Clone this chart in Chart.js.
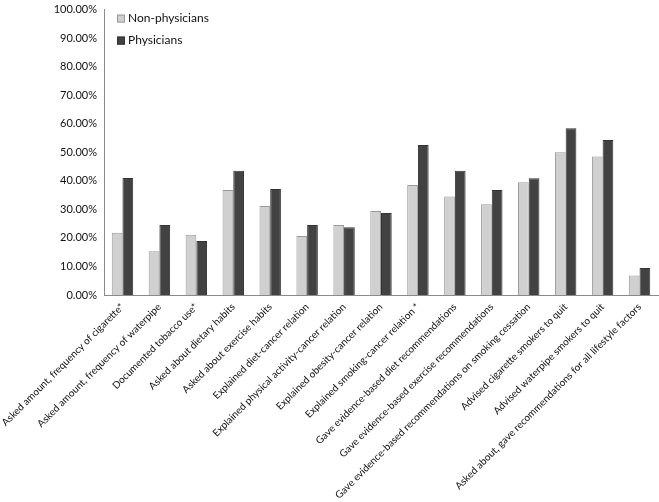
<!DOCTYPE html>
<html>
<head>
<meta charset="utf-8">
<script src="https://cdn.jsdelivr.net/npm/chart.js@4.4.1/dist/chart.umd.min.js"></script>
<style>
  html, body { margin: 0; padding: 0; background: #fff; }
  #wrap { width: 659px; height: 502px; }
</style>
</head>
<body>
<div id="wrap"><canvas id="chart"></canvas></div>
<script>
// categories and values (percent)
const categories = [
  'Asked amount, frequency of cigarette*',
  'Asked amount, frequency of waterpipe',
  'Documented tobacco use*',
  'Asked about dietary habits',
  'Asked about exercise habits',
  'Explained diet-cancer relation',
  'Explained physical activity-cancer relation',
  'Explained obesity-cancer relation',
  'Explained smoking-cancer relation *',
  'Gave evidence-based diet recommendations',
  'Gave evidence-based exercise recommendations',
  'Gave evidence-based recommendations on smoking cessation',
  'Advised cigarette smokers to quit',
  'Advised waterpipe smokers to quit',
  'Asked about, gave recommendations for all lifestyle factors'
];
const nonPhysicians = [21.8, 15.3, 21.1, 36.8, 31.2, 20.7, 24.5, 29.4, 38.5, 34.5, 31.8, 39.5, 50.0, 48.5, 6.8];
const physicians    = [41.0, 24.5, 18.9, 43.5, 37.1, 24.5, 23.7, 28.7, 52.6, 43.5, 36.8, 40.9, 58.4, 54.3, 9.5];
const yTicks = [0, 10, 20, 30, 40, 50, 60, 70, 80, 90, 100];

const FONT = 'Lato';
const TEXT = '#111';

// legend drawn inside the plot area, top left
const innerLegend = {
  id: 'innerLegend',
  afterDraw(chart) {
    const { ctx, chartArea } = chart;
    ctx.save();
    ctx.font = '12px "' + FONT + '"';
    ctx.textBaseline = 'middle';
    chart.data.datasets.forEach((ds, i) => {
      const x = chartArea.left + 13;
      const y = chartArea.top + 9 + i * 22;
      ctx.fillStyle = ds.backgroundColor;
      ctx.strokeStyle = ds.borderColor;
      ctx.lineWidth = 1;
      ctx.fillRect(x, y - 4, 8, 8);
      ctx.strokeRect(x + 0.5, y - 3.5, 7, 7);
      ctx.fillStyle = TEXT;
      ctx.fillText(ds.label, x + 11, y);
    });
    ctx.restore();
  }
};

new Chart(document.getElementById('chart'), {
  type: 'bar',
  data: {
    labels: categories,
    datasets: [
      {
        label: 'Non-physicians',
        data: nonPhysicians,
        backgroundColor: '#d0d0d0',
        borderColor: '#999999',
        borderWidth: 1,
        categoryPercentage: 0.58,
        barPercentage: 1
      },
      {
        label: 'Physicians',
        data: physicians,
        backgroundColor: '#424242',
        borderColor: '#333333',
        borderWidth: 1,
        categoryPercentage: 0.58,
        barPercentage: 1
      }
    ]
  },
  options: {
    responsive: true,
    maintainAspectRatio: false,
    animation: false,
    layout: { padding: { top: 7, right: 1, left: 0, bottom: 0 } },
    plugins: {
      legend: { display: false },
      tooltip: { enabled: false }
    },
    scales: {
      x: {
        afterFit: (scale) => {
          scale.height = 207;
          scale.paddingLeft = 0;
          scale.paddingRight = 0;
        },
        grid: { display: false, drawTicks: false },
        border: { color: '#8a8a8a' },
        ticks: {
          color: TEXT,
          font: { family: FONT, size: 10 },
          maxRotation: 45,
          minRotation: 45,
          autoSkip: false,
          padding: 6
        }
      },
      y: {
        min: 0,
        max: 100,
        afterFit: (scale) => { scale.width = 104; },
        afterBuildTicks: (scale) => { scale.ticks = yTicks.map(v => ({ value: v })); },
        grid: { display: false, drawOnChartArea: false, drawTicks: true, tickLength: 4, tickColor: '#8a8a8a' },
        border: { color: '#8a8a8a' },
        ticks: {
          color: TEXT,
          font: { family: FONT, size: 11 },
          padding: 3,
          callback: (v) => v.toFixed(2) + '%'
        }
      }
    }
  },
  plugins: [innerLegend]
});
</script>
</body>
</html>
